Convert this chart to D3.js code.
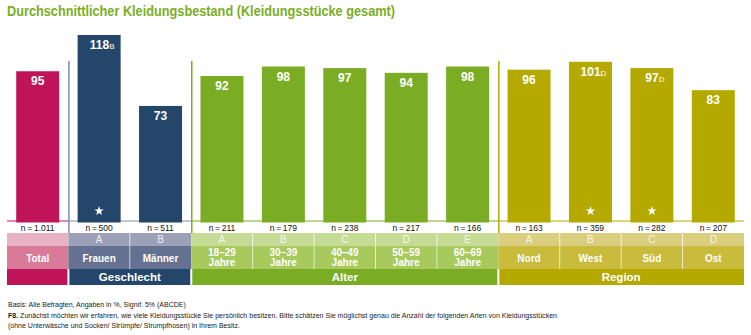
<!DOCTYPE html>
<html>
<head>
<meta charset="utf-8">
<script src="https://cdn.jsdelivr.net/npm/d3@7"></script>
<style>
  body { margin: 0; background: #fff; }
  svg { display: block; font-family: "Liberation Sans", Arial, sans-serif; }
</style>
</head>
<body>
<div id="chart"></div>
<script>
// Daten
const categories = ["Total", "Frauen", "Männer", "18–29 Jahre", "30–39 Jahre", "40–49 Jahre",
    "50–59 Jahre", "60–69 Jahre", "Nord", "West", "Süd", "Ost"];
const values = [95, 118, 73, 92, 98, 97, 94, 98, 96, 101, 97, 83];
const sigLetters = ["", "B", "", "", "", "", "", "", "", "D", "D", ""];
const stars = [false, true, false, false, false, false, false, false, false, true, true, false];
const nCounts = ["1.011", "500", "511", "211", "179", "238", "217", "166", "163", "359", "282", "207"];
const colLetters = ["", "A", "B", "A", "B", "C", "D", "E", "A", "B", "C", "D"];
const groupNames = ["", "Geschlecht", "Alter", "Region"];
const groupOf = [0, 1, 1, 2, 2, 2, 2, 2, 3, 3, 3, 3];

// Farben je Gruppe
const barColors = ["#c0145a", "#25466b", "#7aad23", "#b5a900"];
const letterColors = ["#e7b2c3", "#9ca1b7", "#c6dc96", "#d9cf7e"];
const labelColors = ["#d97a98", "#657191", "#a8c95c", "#c9bc3d"];
const lineColors = ["#c0145a", "#7f8ea5", "#7aad23", "#b5a900"];

const width = 751;
const height = 335;

const svg = d3.select("#chart")
    .append("svg")
    .attr("width", width)
    .attr("height", height);

// Titel
svg.append("text")
    .attr("x", 7)
    .attr("y", 16)
    .attr("fill", "#7aae24")
    .attr("font-size", "14px")
    .attr("font-weight", "bold")
    .attr("textLength", 388)
    .attr("lengthAdjust", "spacingAndGlyphs")
    .text("Durchschnittlicher Kleidungsbestand (Kleidungsstücke gesamt)");

const x = d3.scaleBand()
    .domain(d3.range(categories.length))
    .range([7, 744]);

const y = d3.scaleLinear()
    .domain([0, 118])
    .range([221, 35]);

const barW = 43;
const rowN = [221, 233];
const rowLetter = [233, 246];
const rowLabel = [246, 269];
const rowGroup = [269, 285];

// Gruppen-Spannen
const groups = groupNames.map((name, g) => {
    const idx = d3.range(categories.length).filter(i => groupOf[i] === g);
    return { name, g, x0: x(idx[0]), x1: x(idx[idx.length - 1]) + x.bandwidth() };
});

// vertikale Trennlinien
svg.append("g")
    .selectAll("line")
    .data(groups.slice(1))
    .join("line")
    .attr("x1", d => d.x0 + 0.5)
    .attr("x2", d => d.x0 + 0.5)
    .attr("y1", 61)
    .attr("y2", rowN[1])
    .attr("stroke", d => lineColors[d.g])
    .attr("stroke-width", 1.5);

// Grundlinie
svg.append("g")
    .selectAll("line")
    .data(groups)
    .join("line")
    .attr("x1", d => d.x0)
    .attr("x2", d => d.x1)
    .attr("y1", 221)
    .attr("y2", 221)
    .attr("stroke", d => lineColors[d.g])
    .attr("stroke-width", 1);

// Balken
const barX = i => x(i) + (x.bandwidth() - barW) / 2;
svg.append("g")
    .selectAll("rect")
    .data(values)
    .join("rect")
    .attr("x", (d, i) => barX(i))
    .attr("y", d => y(d))
    .attr("width", barW)
    .attr("height", d => y(0) - y(d) + 1.5)
    .attr("fill", (d, i) => barColors[groupOf[i]]);

// Werte
const valText = svg.append("g")
    .attr("fill", "#fff")
    .attr("text-anchor", "middle")
    .selectAll("text")
    .data(values)
    .join("text")
    .attr("x", (d, i) => x(i) + x.bandwidth() / 2 + (sigLetters[i] ? 3 : 0))
    .attr("y", d => y(d) + 14)
    .attr("font-size", "12px")
    .attr("font-weight", "bold");
valText.append("tspan").text(d => d);
valText.append("tspan")
    .attr("font-size", "8px")
    .attr("font-weight", "normal")
    .text((d, i) => sigLetters[i]);

// Sterne
svg.append("g")
    .selectAll("path")
    .data(d3.range(categories.length).filter(i => stars[i]))
    .join("path")
    .attr("transform", i => `translate(${x(i) + x.bandwidth() / 2},${211})`)
    .attr("d", d3.symbol(d3.symbolStar, 28))
    .attr("fill", "#fff");

// n-Zeile
svg.append("g")
    .attr("text-anchor", "middle")
    .attr("fill", "#111")
    .attr("font-size", "8.5px")
    .selectAll("text")
    .data(nCounts)
    .join("text")
    .attr("x", (d, i) => x(i) + x.bandwidth() / 2)
    .attr("y", rowN[1] - 2.5)
    .text(d => `n\u2009=\u2009${d}`);

// Tabellenkopf: Buchstaben- und Beschriftungszeile
const cells = svg.append("g");
cells.selectAll("rect.letter")
    .data(categories)
    .join("rect")
    .attr("class", "letter")
    .attr("x", (d, i) => x(i))
    .attr("y", rowLetter[0])
    .attr("width", x.bandwidth())
    .attr("height", rowLetter[1] - rowLetter[0])
    .attr("fill", (d, i) => letterColors[groupOf[i]]);
cells.selectAll("rect.label")
    .data(categories)
    .join("rect")
    .attr("class", "label")
    .attr("x", (d, i) => x(i))
    .attr("y", rowLabel[0])
    .attr("width", x.bandwidth())
    .attr("height", rowLabel[1] - rowLabel[0])
    .attr("fill", (d, i) => labelColors[groupOf[i]]);

// weiße Trennstriche innerhalb der Gruppen
cells.selectAll("line")
    .data(d3.range(1, categories.length).filter(i => groupOf[i] === groupOf[i - 1]))
    .join("line")
    .attr("x1", i => x(i))
    .attr("x2", i => x(i))
    .attr("y1", rowLetter[0])
    .attr("y2", rowLabel[1])
    .attr("stroke", "#fff")
    .attr("stroke-opacity", 0.6)
    .attr("stroke-width", 1);

cells.selectAll("text.letter")
    .data(colLetters)
    .join("text")
    .attr("class", "letter")
    .attr("x", (d, i) => x(i) + x.bandwidth() / 2)
    .attr("y", rowLetter[1] - 3)
    .attr("text-anchor", "middle")
    .attr("fill", "#fff")
    .attr("fill-opacity", 0.85)
    .attr("font-size", "10px")
    .text(d => d);

const labelText = cells.selectAll("text.label")
    .data(categories)
    .join("text")
    .attr("class", "label")
    .attr("text-anchor", "middle")
    .attr("fill", "#fff")
    .attr("font-size", "10px")
    .attr("font-weight", "bold");
labelText.each(function (d, i) {
    const parts = d.split(" ");
    const cx = x(i) + x.bandwidth() / 2;
    const t = d3.select(this);
    if (parts.length === 1) {
        t.append("tspan").attr("x", cx).attr("y", rowLabel[0] + 15.5).text(d);
    } else {
        t.append("tspan").attr("x", cx).attr("y", rowLabel[0] + 10).text(parts[0]);
        t.append("tspan").attr("x", cx).attr("y", rowLabel[0] + 20).text(parts[1]);
    }
});

// Gruppenzeile
svg.append("g")
    .selectAll("rect")
    .data(groups)
    .join("rect")
    .attr("x", d => d.x0 + (d.g > 0 ? 1 : 0))
    .attr("y", rowGroup[0])
    .attr("width", d => d.x1 - d.x0 - (d.g > 0 ? 1 : 0) - (d.g < 3 ? 1 : 0))
    .attr("height", rowGroup[1] - rowGroup[0])
    .attr("fill", d => barColors[d.g]);

svg.append("g")
    .attr("text-anchor", "middle")
    .attr("fill", "#fff")
    .attr("font-size", "11.5px")
    .attr("font-weight", "bold")
    .selectAll("text")
    .data(groups)
    .join("text")
    .attr("x", d => (d.x0 + d.x1) / 2)
    .attr("y", rowGroup[1] - 4)
    .text(d => d.name);

// Fußnote
const foot = svg.append("g")
    .attr("font-family", "'Liberation Sans Narrow', 'Liberation Sans', sans-serif")
    .attr("font-size", "7px")
    .attr("fill", "#222");
foot.append("text").attr("x", 8).attr("y", 307)
    .text("Basis: Alle Befragten, Angaben in %, Signif. 5% (ABCDE)");
const f2 = foot.append("text").attr("x", 8).attr("y", 318)
    .attr("textLength", 549)
    .attr("lengthAdjust", "spacingAndGlyphs");
f2.append("tspan").attr("font-weight", "bold").text("F8. ");
f2.append("tspan").text("Zunächst möchten wir erfahren, wie viele Kleidungsstücke Sie persönlich besitzen. Bitte schätzen Sie möglichst genau die Anzahl der folgenden Arten von Kleidungsstücken");
foot.append("text").attr("x", 8).attr("y", 328)
    .text("(ohne Unterwäsche und Socken/ Strümpfe/ Strumpfhosen) in Ihrem Besitz.");
</script>
</body>
</html>
